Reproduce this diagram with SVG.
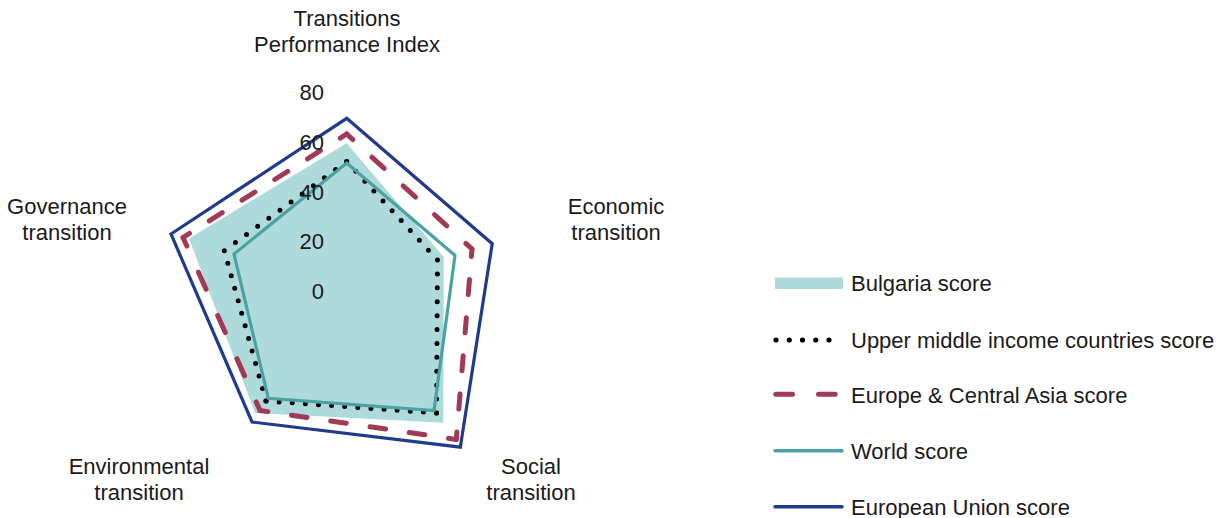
<svg xmlns="http://www.w3.org/2000/svg" width="1227" height="518" viewBox="0 0 1227 518">
<style>
text{font-family:"Liberation Sans",Arial,sans-serif;font-size:22px;fill:#1a1a1a}
.lbl{text-anchor:middle}
.tick{text-anchor:end}
.bg{fill:#AEDADB;stroke:none}
.umi{fill:none;stroke:#000;stroke-width:5;stroke-linecap:round;stroke-dasharray:0 1}
.eca{fill:none;stroke:#A03A57;stroke-width:5;stroke-linecap:round;stroke-dasharray:17 26;stroke-dashoffset:8.5}
.wld{fill:none;stroke:#4AA3A2;stroke-width:3.2;stroke-linejoin:miter}
.eu{fill:none;stroke:#203A8C;stroke-width:3.2;stroke-linejoin:miter}
</style>
<rect width="1227" height="518" fill="#fff"/>
<g id="connectors">
<g id="series-bulgaria">
<polygon class="bg" points="346.7,143.3 443.8,257 443.3,422.7 255,413 189,238.5"/>
</g>
<g id="series-upper-middle">
<path class="umi" d="M346.7,161.5 L437.5,260" pathLength="10"/>
<path class="umi" d="M437.5,260 L436.5,413" pathLength="11"/>
<path class="umi" d="M436.5,413 L266,401" pathLength="13"/>
<path class="umi" d="M266,401 L224.3,250.7" pathLength="12"/>
<path class="umi" d="M224.3,250.7 L346.7,161.5" pathLength="11"/>
</g>
<g id="series-eca">
<path class="eca" d="M346.7,134 L472,249" pathLength="172"/>
<path class="eca" d="M472,249 L456.3,439.5" pathLength="215"/>
<path class="eca" d="M456.3,439.5 L260,410.5" pathLength="215"/>
<path class="eca" d="M260,410.5 L183,237.5" pathLength="172"/>
<path class="eca" d="M183,237.5 L346.7,134" pathLength="215"/>
</g>
<g id="series-world">
<polygon class="wld" points="346.7,163 455,255.5 434,410.5 268.3,398.3 234,254"/>
</g>
<g id="series-eu">
<polygon class="eu" points="346.7,118.3 492.2,243.7 460.3,447.2 252,422 171,234"/>
</g>
</g>
<g id="axis-ticks">
<text class="tick" x="324" y="298.8">0</text>
<text class="tick" x="324" y="249.2">20</text>
<text class="tick" x="324" y="199.6">40</text>
<text class="tick" x="324" y="150">60</text>
<text class="tick" x="324" y="100.4">80</text>
</g>
<g id="node-tpi">
<text class="lbl" x="347" y="26">Transitions</text>
<text class="lbl" x="347" y="52">Performance Index</text>
</g>
<g id="node-economic">
<text class="lbl" x="616" y="213.5">Economic</text>
<text class="lbl" x="616" y="239.5">transition</text>
</g>
<g id="node-social">
<text class="lbl" x="531" y="474">Social</text>
<text class="lbl" x="531" y="500">transition</text>
</g>
<g id="node-environmental">
<text class="lbl" x="139" y="474">Environmental</text>
<text class="lbl" x="139" y="500">transition</text>
</g>
<g id="node-governance">
<text class="lbl" x="67" y="213.5">Governance</text>
<text class="lbl" x="67" y="239.5">transition</text>
</g>
<g id="legend">
<g id="legend-bulgaria">
<rect class="bg" x="775" y="277.5" width="68" height="11.5"/>
<text x="851" y="291">Bulgaria score</text>
</g>
<g id="legend-upper-middle">
<path d="M776,340 L829.1,340" fill="none" stroke="#000" stroke-width="5.2" stroke-linecap="round" stroke-dasharray="0 13.25"/>
<text x="851" y="348">Upper middle income countries score</text>
</g>
<g id="legend-eca">
<path d="M775.8,394.3 L836,394.3" fill="none" stroke="#A03A57" stroke-width="5" stroke-linecap="round" stroke-dasharray="16.7 26"/>
<text x="851" y="402.5">Europe &amp; Central Asia score</text>
</g>
<g id="legend-world">
<path d="M775,450.7 L842,450.7" fill="none" stroke="#4AA3A2" stroke-width="3.5" stroke-linecap="round"/>
<text x="851" y="458.5">World score</text>
</g>
<g id="legend-eu">
<path d="M775,506.7 L842,506.7" fill="none" stroke="#203A8C" stroke-width="3.5" stroke-linecap="round"/>
<text x="851" y="514.5">European Union score</text>
</g>
</g>
</svg>
